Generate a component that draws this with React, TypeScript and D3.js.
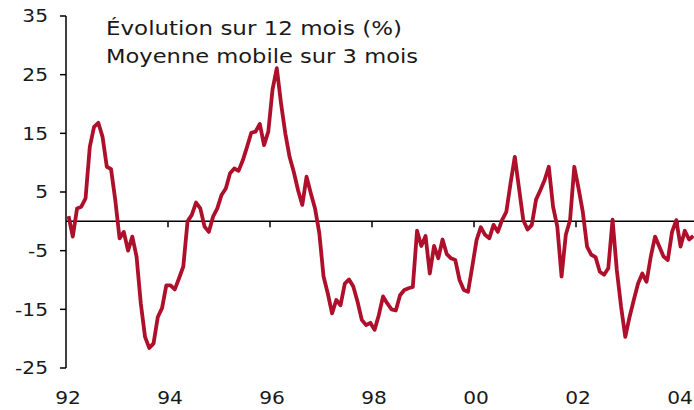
import React from "react";
import * as d3 from "d3";

const WIDTH = 694;
const HEIGHT = 410;

// monthly values, Jan 1992 onward (12-month change, 3-month moving average)
const values = [
  0.9, -2.6, 2.2, 2.5, 3.9, 12.7, 16.1, 16.8, 14.4, 9.3, 8.9, 3.6,
  -2.9, -1.8, -5.0, -2.6, -6.0, -14.0, -19.7, -21.6, -20.8, -16.3, -14.8, -10.9,
  -10.9, -11.6, -9.7, -7.7, 0.0, 1.1, 3.2, 2.2, -0.9, -1.8, 0.8, 2.2,
  4.5, 5.6, 8.2, 9.0, 8.6, 10.4, 12.7, 15.1, 15.3, 16.6, 13.0, 15.3,
  22.5, 26.1, 20.1, 15.0, 11.0, 8.4, 5.3, 2.8, 7.6, 4.8, 2.2, -2.0,
  -9.4, -12.3, -15.7, -13.4, -14.3, -10.6, -9.9, -11.1, -13.7, -16.8, -17.7, -17.3,
  -18.5, -16.0, -12.8, -14.0, -15.0, -15.2, -12.6, -11.7, -11.4, -11.2, -1.6, -4.2,
  -2.5, -8.9, -4.2, -6.3, -3.1, -5.6, -6.3, -6.6, -10.0, -11.7, -12.0, -7.7,
  -3.2, -1.0, -2.3, -2.9, -0.6, -1.8, 0.2, 1.6, 6.5, 11.0, 5.6, 0.2,
  -1.4, -0.6, 3.7, 5.3, 7.0, 9.3, 2.5, -0.9, -9.4, -2.3, 0.2, 9.3,
  5.6, 1.6, -4.3, -5.7, -6.1, -8.6, -9.1, -8.0, 0.3, -8.3, -14.5, -19.7,
  -16.3, -13.4, -10.6, -8.9, -10.3, -6.0, -2.6, -4.3, -6.0, -6.6, -1.8, 0.2,
  -4.3, -1.6, -3.1, -2.5,
];

const yTicks = [-25, -15, -5, 5, 15, 25, 35];
const xTickLabels = ["92", "94", "96", "98", "00", "02", "04"];
const xTickMonths = [0, 24, 48, 72, 96, 120, 144];
const titleLines = ["Évolution sur 12 mois (%)", "Moyenne mobile sur 3 mois"];

const FONT = "'DejaVu Sans', Verdana, sans-serif";
const LINE_COLOR = "#ae0f2a";

export default function App() {
  const xScale = d3.scaleLinear().domain([0, 148]).range([66, 695]);
  const yScale = d3.scaleLinear().domain([-25, 35]).range([368, 16]);

  const linePath = d3
    .line<number>()
    .x((d, i) => xScale(i + 0.6))
    .y((d) => yScale(d))(values);

  const y0 = yScale(0);
  const x0 = xScale(0);

  return (
    <svg
      width={WIDTH}
      height={HEIGHT}
      style={{ position: "absolute", left: 0, top: 0, background: "#fff" }}
      fontFamily={FONT}
    >
      {/* title */}
      <g fill="#1a1a1a" fontSize={19.5}>
        {titleLines.map((t, i) => (
          <text
            key={i}
            x={106}
            y={35 + i * 28.3}
            textLength={i === 0 ? 296 : 312}
            lengthAdjust="spacingAndGlyphs"
          >
            {t}
          </text>
        ))}
      </g>

      {/* y axis */}
      <line x1={x0} x2={x0} y1={yScale(35)} y2={yScale(-25)} stroke="#000" strokeWidth={1.5} />
      {yTicks.map((v) => (
        <g key={v}>
          <line x1={x0 - 6} x2={x0} y1={yScale(v)} y2={yScale(v)} stroke="#000" strokeWidth={1.5} />
          <text
            transform={`translate(48,${yScale(v)}) scale(1.12,1)`}
            textAnchor="end"
            dy="0.36em"
            fontSize={18}
            fill="#1a1a1a"
          >
            {v}
          </text>
        </g>
      ))}

      {/* zero line with x ticks */}
      <line x1={x0} x2={WIDTH} y1={y0} y2={y0} stroke="#000" strokeWidth={1.5} />
      {xTickMonths.map((m, i) => (
        <g key={m}>
          {i > 0 && (
            <line x1={xScale(m)} x2={xScale(m)} y1={y0} y2={y0 + 6} stroke="#000" strokeWidth={1.5} />
          )}
          <text
            transform={`translate(${xScale(m) + 2},404) scale(1.12,1)`}
            textAnchor="middle"
            fontSize={18}
            fill="#1a1a1a"
          >
            {xTickLabels[i]}
          </text>
        </g>
      ))}

      {/* series */}
      <path d={linePath || ""} fill="none" stroke={LINE_COLOR} strokeWidth={3.8} strokeLinejoin="round" />
    </svg>
  );
}
